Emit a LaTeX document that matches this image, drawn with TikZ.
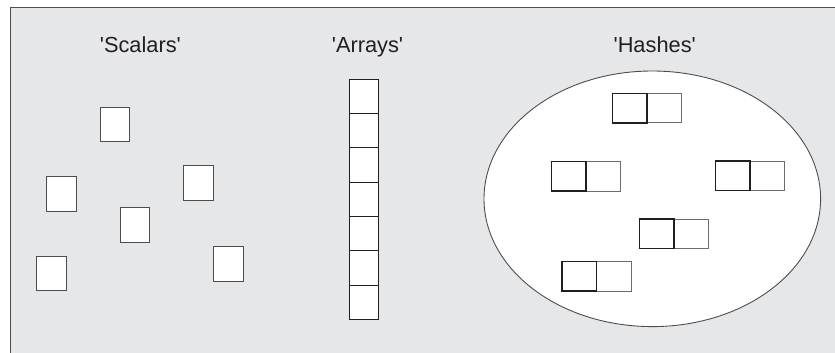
\documentclass[tikz,border=0pt]{standalone}
\usepackage{fontspec}
\setmainfont{Liberation Sans}
\usetikzlibrary{shapes.geometric}
\definecolor{panelgray}{HTML}{E6E7E8}
\definecolor{edgegray}{HTML}{4D4D4F}
\definecolor{inkgray}{HTML}{231F20}
\newcommand{\sq}{\textquotesingle}
\tikzset{
  title/.style={anchor=base, text=inkgray, inner sep=0pt,
    font=\fontsize{21.8}{25}\selectfont},
  scalarbox/.style={draw=edgegray, fill=white, line width=1pt,
    minimum width=29.5pt, minimum height=34.5pt, inner sep=0pt},
  arraycell/.style={draw=inkgray, fill=white, line width=0.9pt,
    minimum width=29pt, minimum height=34.29pt, inner sep=0pt},
  keycell/.style={draw=inkgray, line width=1.5pt,
    minimum width=34.5pt, minimum height=29.5pt, inner sep=0pt},
  valcell/.style={draw=gray!85!black, line width=1pt,
    minimum width=34.5pt, minimum height=29.5pt, inner sep=0pt},
}
\begin{document}
\begin{tikzpicture}[x=1pt, y=-1pt]
  \useasboundingbox (0,0) rectangle (835,353);
  % background panel, framed on the top and left only
  \fill[panelgray] (10.5,7.5) rectangle (836,354);
  \draw[edgegray, line width=1.6pt] (10.5,354) -- (10.5,7.5) -- (836,7.5);

  % headings
  \node[title] (tscalars) at (140.4,52.3) {\sq Scalars\sq};
  \node[title] (tarrays)  at (367.5,52.3) {\sq Arrays\sq};
  \node[title] (thashes)  at (654.7,52.3) {\sq Hashes\sq};

  % scattered scalars
  \node[scalarbox] (s1) at (115,124.5) {};
  \node[scalarbox] (s2) at (61.5,194) {};
  \node[scalarbox] (s3) at (198.5,183) {};
  \node[scalarbox] (s4) at (135,225) {};
  \node[scalarbox] (s5) at (51.5,273.5) {};
  \node[scalarbox] (s6) at (228.5,264) {};

  % array: a column of seven cells
  \foreach \i in {0,...,6}
    \node[arraycell] (a\i) at (363.8,{79.3+34.29*(\i+0.5)}) {};

  % hash: an ellipse holding key/value pairs
  \node[ellipse, draw=edgegray, fill=white, line width=0.9pt, inner sep=0pt,
        minimum width=336.6pt, minimum height=255.6pt] (hash) at (652.3,198.8) {};
  \foreach \n/\l/\t in {1/612.3/93.3, 2/551.3/161.7, 3/715.3/161,
                        4/639.3/219, 5/562/261.7} {
    \node[valcell] (v\n) at ({\l+51.75},{\t+14.75}) {};
    \node[keycell] (k\n) at ({\l+17.25},{\t+14.75}) {};
  }
\end{tikzpicture}
\end{document}
